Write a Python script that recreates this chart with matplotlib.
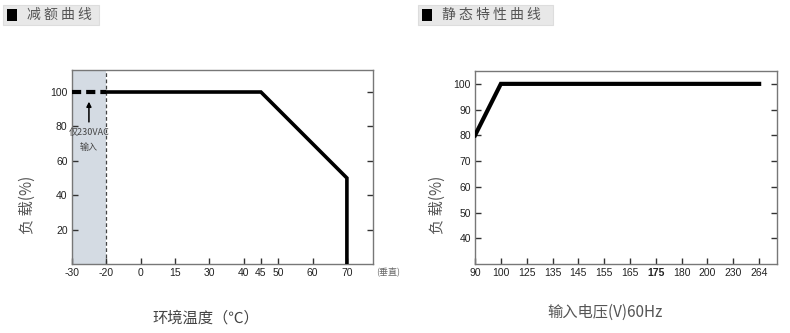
import numpy as np
import matplotlib.pyplot as plt
from matplotlib.patches import Rectangle

plt.rcParams['font.family'] = ['Noto Sans CJK SC', 'DejaVu Sans']

# derating curve (load vs ambient temperature)
temp_ticks = [-30, -20, 0, 15, 30, 40, 45, 50, 60, 70]
temp_pos = [0, 1, 2, 3, 4, 5, 5.5, 6, 7, 8]
derate_dash_t = [-30, -20]
derate_dash_load = [100, 100]
derate_t = [-20, 45, 70, 70]
derate_load = [100, 100, 50, 0]
load_ticks = [20, 40, 60, 80, 100]

# static curve (load vs input voltage)
volt_ticks = [90, 100, 125, 135, 145, 155, 165, 175, 180, 200, 230, 264]
static_v = [90, 100, 264]
static_load = [80, 100, 100]
static_load_ticks = [40, 50, 60, 70, 80, 90, 100]

num_font = ['Liberation Sans Narrow', 'Liberation Sans', 'DejaVu Sans']
gris = '#555555'


def scale_funcs(ticks, pos, pas):
    # piecewise linear axis (ticks are evenly spaced but values are not)
    t = [ticks[0] - 10] + list(ticks) + [ticks[-1] + pas]
    p = [pos[0] - 1] + list(pos) + [pos[-1] + 1]
    fwd = lambda x: np.interp(x, t, p)
    inv = lambda x: np.interp(x, p, t)
    return fwd, inv


def style_axes(ax):
    for s in ax.spines.values():
        s.set_color('#777777')
        s.set_linewidth(1)
    ax.tick_params(direction='in', length=4, width=1, color='#333333',
                   labelsize=7.5, labelcolor='#222222', pad=3,
                   right=True, top=False)
    for lab in ax.get_xticklabels() + ax.get_yticklabels():
        lab.set_family(num_font)


fig = plt.figure(figsize=(7.9, 3.33), dpi=100)

# ---- left chart
ax1 = fig.add_axes([0.0908, 0.2072, 0.3814, 0.5826])
fwd, inv = scale_funcs(temp_ticks, temp_pos, 10)
ax1.set_xscale('function', functions=(fwd, inv))
ax1.set_xlim(-30, 77.6)
ax1.set_ylim(0, 112.8)
ax1.axvspan(-30, -20, color='#d4dbe3', lw=0, zorder=0)
ax1.axvline(-20, color='#444444', lw=0.9, ls=(0, (3, 2)), zorder=1)
ax1.plot(derate_dash_t, derate_dash_load, color='black', lw=3, ls=(0, (2.2, 1.2)), zorder=3)
ax1.plot(derate_t, derate_load, color='black', lw=2.6, solid_joinstyle='miter', zorder=3)
ax1.set_xticks(temp_ticks)
ax1.set_xticklabels([str(t) for t in temp_ticks])
ax1.set_yticks(load_ticks)
style_axes(ax1)
ax1.tick_params(axis='y', labelright=False)
ax1.annotate('', xy=(-25, 96), xytext=(-25, 81),
             arrowprops=dict(arrowstyle='-|>', color='black', lw=1.1, mutation_scale=7))
ax1.text(-25, 76.3, '仅230VAC', ha='center', va='center', fontsize=6.5, color='#444444')
ax1.text(-25, 67.8, '输入', ha='center', va='center', fontsize=6.5, color='#444444')
ax1.text(1.01, -0.02, '(垂直)', transform=ax1.transAxes, ha='left', va='top',
         fontsize=6.5, color='#666666')

# ---- right chart
ax2 = fig.add_axes([0.6013, 0.2072, 0.3819, 0.5796])
fwd2, inv2 = scale_funcs(volt_ticks, list(range(len(volt_ticks))), 36)
ax2.set_xscale('function', functions=(fwd2, inv2))
ax2.set_xlim(90, 288.5)
ax2.set_ylim(30, 105)
ax2.plot(static_v, static_load, color='black', lw=3, solid_joinstyle='miter', zorder=3)
ax2.set_xticks(volt_ticks)
ax2.set_xticklabels([str(v) for v in volt_ticks])
ax2.set_yticks(static_load_ticks)
style_axes(ax2)
ax2.tick_params(axis='y', labelright=False)
for lab in ax2.get_xticklabels():
    if lab.get_text() == '175':
        lab.set_fontweight('bold')

# ---- axis titles
fig.text(0.035, 0.385, '负 载(%)', rotation=90, ha='center', va='center',
         fontsize=11, color=gris)
fig.text(0.553, 0.385, '负 载(%)', rotation=90, ha='center', va='center',
         fontsize=11, color=gris)
fig.text(206 / 790, 0.045, '环境温度（℃）', ha='center', va='center',
         fontsize=11, color='#444444')
fig.text(605 / 790, 0.063, '输入电压(V)60Hz', ha='center', va='center',
         fontsize=11, color=gris)

# ---- section headers
for x0, w, titre in [(3, 96, '减 额 曲 线'), (418, 135, '静 态 特 性 曲 线')]:
    fig.patches.append(Rectangle((x0 / 790, 1 - 25 / 333), w / 790, 20 / 333,
                                 transform=fig.transFigure, facecolor='#e8e8e8',
                                 edgecolor='#dddddd', lw=0.8))
    fig.patches.append(Rectangle(((x0 + 4) / 790, 1 - 21 / 333), 10 / 790, 12 / 333,
                                 transform=fig.transFigure, facecolor='black', lw=0))
    fig.text((x0 + 24) / 790, 1 - 15 / 333, titre, ha='left', va='center',
             fontsize=10, color=gris)

fig.savefig('out.png', dpi=100)
